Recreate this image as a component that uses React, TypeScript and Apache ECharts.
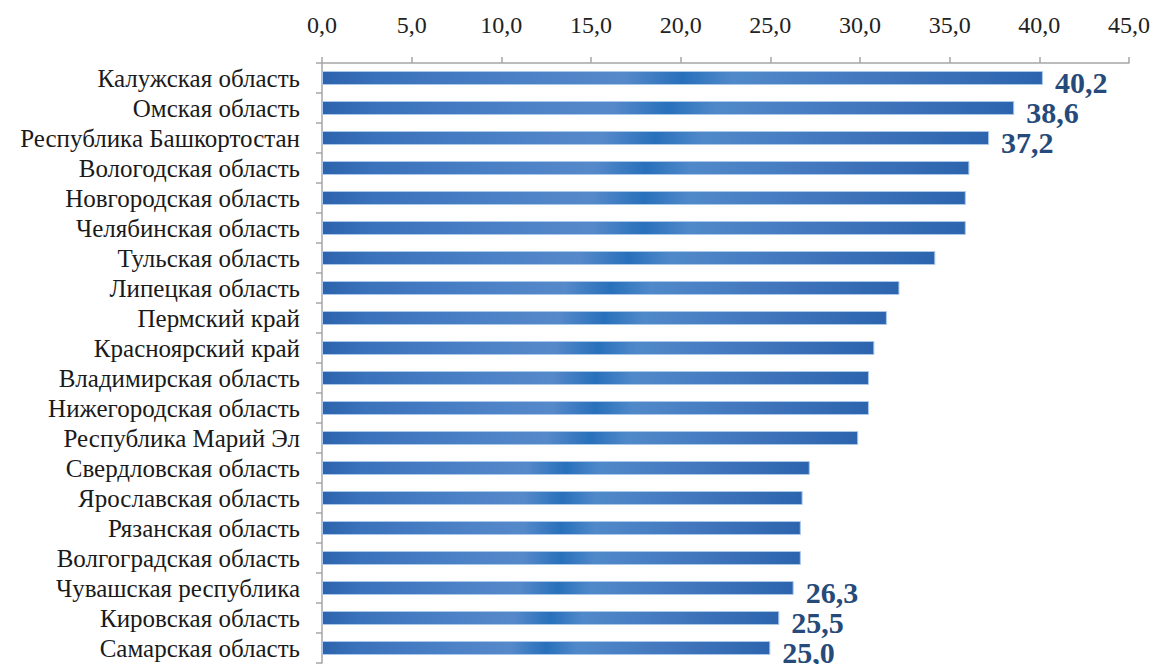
import React, { useEffect, useRef } from "react";
import * as echarts from "echarts";

const categories = [
  "Калужская область",
  "Омская область",
  "Республика Башкортостан",
  "Вологодская область",
  "Новгородская область",
  "Челябинская область",
  "Тульская область",
  "Липецкая область",
  "Пермский край",
  "Красноярский край",
  "Владимирская область",
  "Нижегородская область",
  "Республика Марий Эл",
  "Свердловская область",
  "Ярославская область",
  "Рязанская область",
  "Волгоградская область",
  "Чувашская республика",
  "Кировская область",
  "Самарская область",
];

const values = [40.2, 38.6, 37.2, 36.1, 35.9, 35.9, 34.2, 32.2, 31.5, 30.8, 30.5, 30.5, 29.9, 27.2, 26.8, 26.7, 26.7, 26.3, 25.5, 25.0];

const labelledIndices = [0, 1, 2, 17, 18, 19];

const fmt = (v: number) => v.toFixed(1).replace(".", ",");

export default function App() {
  const ref = useRef<HTMLDivElement>(null);
  useEffect(() => {
    document.body.style.margin = "0";
    if (!ref.current) return;
    const chart = echarts.init(ref.current, null, { renderer: "svg" });
    const barColor = new echarts.graphic.LinearGradient(0, 0, 1, 0, [
      { offset: 0, color: "#2d63ad" },
      { offset: 0.08, color: "#3a72bb" },
      { offset: 0.3, color: "#4d82c7" },
      { offset: 0.42, color: "#5689ca" },
      { offset: 0.5, color: "#2870bb" },
      { offset: 0.57, color: "#5089ca" },
      { offset: 0.78, color: "#4276bd" },
      { offset: 1, color: "#2c65ae" },
    ]);
    chart.setOption({
      animation: false,
      grid: { left: 322, right: 24, top: 63, bottom: 1, containLabel: false },
      xAxis: {
        type: "value",
        position: "top",
        min: 0,
        max: 45,
        interval: 5,
        axisLine: { show: true, lineStyle: { color: "#a6a6a6", width: 1.5 } },
        axisTick: { show: true, length: 6, lineStyle: { color: "#a6a6a6", width: 1.5 } },
        splitLine: { show: false },
        axisLabel: {
          formatter: (v: number) => fmt(v),
          fontFamily: "Liberation Serif",
          fontSize: 24,
          color: "#222",
          margin: 26,
        },
      },
      yAxis: {
        type: "category",
        data: categories,
        inverse: true,
        axisLine: { show: true, lineStyle: { color: "#a6a6a6", width: 1.5 } },
        axisTick: { show: true, length: 6, lineStyle: { color: "#a6a6a6", width: 1.5 } },
        axisLabel: {
          interval: 0,
          fontFamily: "Liberation Serif",
          fontSize: 25,
          color: "#1a1a1a",
          margin: 22,
        },
      },
      series: [
        {
          type: "bar",
          barWidth: 14,
          data: values.map((v, i) => ({
            value: v,
            label: { show: labelledIndices.includes(i) },
          })),
          itemStyle: { color: barColor, borderColor: "#a9c8ea", borderWidth: 1 },
          label: {
            position: "right",
            distance: 12,
            offset: [0, 4],
            formatter: (p: any) => fmt(p.value),
            fontFamily: "Liberation Serif",
            fontWeight: "bold",
            fontSize: 30,
            color: "#264a7a",
          },
        },
      ],
    });
    return () => chart.dispose();
  }, []);
  return <div ref={ref} style={{ width: 1153, height: 664 }} />;
}
